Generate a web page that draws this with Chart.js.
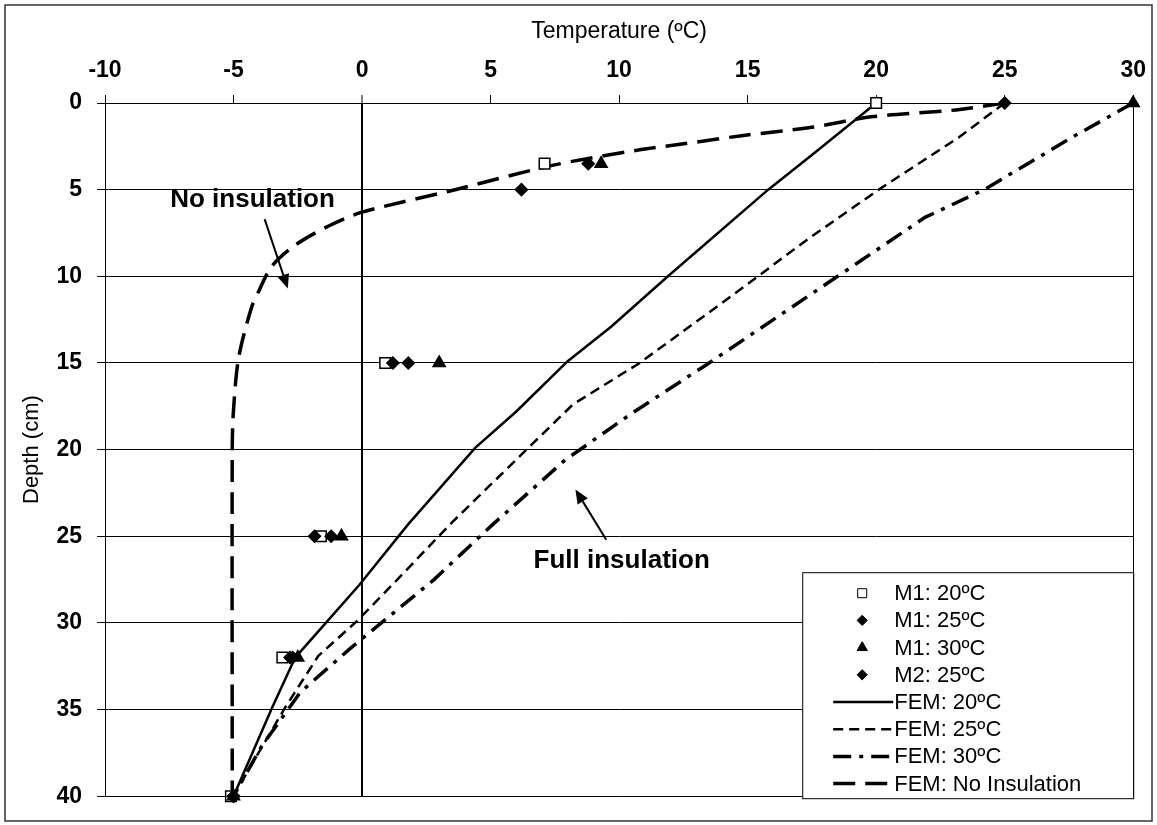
<!DOCTYPE html>
<html>
<head>
<meta charset="utf-8">
<script src="https://cdn.jsdelivr.net/npm/chart.js@4.4.0/dist/chart.umd.min.js"></script>
<style>
  html, body { margin: 0; padding: 0; background: #fff; }
  #wrap { width: 1157px; height: 825px; position: relative; }
</style>
</head>
<body>
<div id="wrap"><canvas id="profile"></canvas></div>
<script>
// measured profiles (depth in cm, temperature in ºC)
const m1Depths = [0, 3.5, 15, 25, 32, 40];
const m1Temp20 = [20, 7.1, 0.9, -1.6, -3.1, -5.1];
const m1Temp25 = [25, 8.8, 1.8, -1.2, -2.7, -5.0];
const m1Temp30 = [30, 9.3, 3.0, -0.8, -2.5, -5.0];
const m2Depths = [5, 15, 25, 32, 40];
const m2Temp25 = [6.2, 1.2, -1.85, -2.8, -5.0];

// FEM results
const femDepth20 = [0, 3, 5, 10, 12.9, 14.9, 17.8, 19.9, 24.3, 27.8, 32, 34.9, 40];
const femTemp20 = [20, 17.5, 15.8, 11.9, 9.7, 8.0, 6.0, 4.4, 1.8, -0.1, -2.6, -3.5, -5];
const femDepth25 = [0, 2, 5, 7.9, 11, 15, 17.4, 20, 24.2, 27.3, 29.9, 31.9, 34.9, 38.7, 40];
const femTemp25 = [25, 23.2, 20.1, 17.3, 14.5, 10.8, 8.2, 6.4, 3.5, 1.5, -0.2, -1.7, -3.0, -4.5, -5];
const femDepth30 = [0, 2, 5, 6.6, 10, 13.1, 15.1, 17.9, 20.6, 24.3, 27.5, 31.4, 34, 37.1, 40];
const femTemp30 = [30, 27.6, 24.2, 21.9, 18.5, 15.4, 13.4, 10.5, 7.9, 5.1, 2.8, -0.4, -2.4, -3.9, -5];
const noInsDepth = [0, 0.4, 0.8, 1.4, 1.9, 2.4, 2.7, 3.6, 5.05, 6.3, 7.1, 8.2, 9.4, 10.8, 11.8, 14.7, 17.7, 20, 40];
const noInsTemp = [25, 23.1, 19.8, 17.5, 14.7, 12.3, 10.8, 7.4, 3.5, 0, -1.3, -2.6, -3.5, -4.0, -4.3, -4.8, -5.0, -5.05, -5.05];

const tempTicks = [-10, -5, 0, 5, 10, 15, 20, 25, 30];
const depthTicks = [0, 5, 10, 15, 20, 25, 30, 35, 40];

const pairs = (xs, ys) => xs.map((x, i) => ({ x: x, y: ys[i] }));

// lower order is drawn on top
function markerSet(label, xs, ys, style, radius, fill, order) {
  return {
    label: label,
    data: pairs(xs, ys),
    showLine: false,
    pointStyle: style,
    pointRadius: radius,
    pointBorderWidth: 1.5,
    pointBackgroundColor: fill,
    pointBorderColor: '#000',
    clip: false,
    order: order
  };
}

function femSet(label, xs, ys, dash, width, tension) {
  return {
    label: label,
    data: pairs(xs, ys),
    showLine: true,
    pointRadius: 0,
    borderColor: '#000',
    borderWidth: width,
    borderDash: dash,
    tension: tension || 0,
    order: 3
  };
}

// text labels with arrows, placed in data coordinates
const notes = [
  { text: 'No insulation', x: -4.26, y: 5.6, from: [-3.79, 6.7], to: [-2.89, 10.7] },
  { text: 'Full insulation', x: 10.1, y: 26.4, from: [9.5, 25.2], to: [8.3, 22.3] }
];

const frame = {
  id: 'frame',
  beforeDraw(chart) {
    const ctx = chart.ctx;
    ctx.save();
    ctx.fillStyle = '#fff';
    ctx.fillRect(0, 0, chart.width, chart.height);
    ctx.strokeStyle = '#333';
    ctx.lineWidth = 1.5;
    ctx.strokeRect(5, 5, chart.width - 10, chart.height - 9);
    ctx.restore();
  }
};

const arrowNotes = {
  id: 'arrowNotes',
  afterDatasetsDraw(chart) {
    const { ctx, scales } = chart;
    const sx = scales.x, sy = scales.y;
    ctx.save();
    ctx.fillStyle = '#000';
    ctx.strokeStyle = '#000';
    ctx.font = 'bold 26px "Liberation Sans"';
    ctx.textAlign = 'center';
    ctx.textBaseline = 'middle';
    notes.forEach(n => {
      ctx.fillText(n.text, sx.getPixelForValue(n.x), sy.getPixelForValue(n.y));
      const x1 = sx.getPixelForValue(n.from[0]), y1 = sy.getPixelForValue(n.from[1]);
      const x2 = sx.getPixelForValue(n.to[0]), y2 = sy.getPixelForValue(n.to[1]);
      const a = Math.atan2(y2 - y1, x2 - x1);
      const head = 14, half = 6;
      const bx = x2 - head * Math.cos(a), by = y2 - head * Math.sin(a);
      ctx.lineWidth = 2;
      ctx.beginPath();
      ctx.moveTo(x1, y1);
      ctx.lineTo(bx, by);
      ctx.stroke();
      ctx.beginPath();
      ctx.moveTo(x2, y2);
      ctx.lineTo(bx + half * Math.sin(a), by - half * Math.cos(a));
      ctx.lineTo(bx - half * Math.sin(a), by + half * Math.cos(a));
      ctx.closePath();
      ctx.fill();
    });
    ctx.restore();
  }
};

// legend box sitting in the lower right corner of the plot
const boxLegend = {
  id: 'boxLegend',
  afterDraw(chart) {
    const { ctx, chartArea } = chart;
    const w = 331, h = 226;
    const x0 = chartArea.right - w, y0 = chartArea.bottom + 2 - h;
    ctx.save();
    ctx.fillStyle = '#fff';
    ctx.fillRect(x0, y0, w, h);
    ctx.strokeStyle = '#000';
    ctx.lineWidth = 1;
    ctx.strokeRect(x0 + 0.5, y0 + 0.5, w, h);
    ctx.font = '22px "Liberation Sans"';
    ctx.textAlign = 'left';
    ctx.textBaseline = 'middle';
    chart.data.datasets.forEach((ds, i) => {
      const cy = y0 + 21 + i * 27.2;
      ctx.strokeStyle = '#000';
      if (ds.showLine) {
        ctx.lineWidth = ds.borderWidth;
        ctx.setLineDash(ds.borderDash || []);
        ctx.beginPath();
        ctx.moveTo(x0 + 31, cy);
        ctx.lineTo(x0 + 91, cy);
        ctx.stroke();
        ctx.setLineDash([]);
      } else {
        ctx.fillStyle = ds.pointBackgroundColor;
        Chart.helpers.drawPoint(ctx, {
          pointStyle: ds.pointStyle,
          radius: ds.pointRadius * 0.85,
          borderWidth: ds.pointBorderWidth,
          rotation: 0
        }, x0 + 60, cy);
      }
      ctx.fillStyle = '#000';
      ctx.fillText(ds.label, x0 + 92, cy + 1);
    });
    ctx.restore();
  }
};

new Chart(document.getElementById('profile'), {
  type: 'scatter',
  data: {
    datasets: [
      markerSet('M1: 20ºC', m1Temp20, m1Depths, 'rect', 7.5, '#fff', 2),
      markerSet('M1: 25ºC', m1Temp25, m1Depths, 'rectRot', 6, '#000', 1),
      markerSet('M1: 30ºC', m1Temp30, m1Depths, 'triangle', 7, '#000', 1),
      markerSet('M2: 25ºC', m2Temp25, m2Depths, 'rectRot', 6, '#000', 1),
      femSet('FEM: 20ºC', femTemp20, femDepth20, [], 2.5),
      femSet('FEM: 25ºC', femTemp25, femDepth25, [10, 6], 2.5),
      femSet('FEM: 30ºC', femTemp30, femDepth30, [18, 8, 4, 8], 3.5),
      femSet('FEM: No Insulation', noInsTemp, noInsDepth, [22, 10], 3.5, 0.3)
    ]
  },
  options: {
    responsive: true,
    maintainAspectRatio: false,
    animation: false,
    layout: { padding: { left: 0, top: 0, right: 22, bottom: 22 } },
    plugins: {
      legend: { display: false },
      tooltip: { enabled: false }
    },
    scales: {
      x: {
        type: 'linear',
        position: 'top',
        min: -10,
        max: 30,
        afterFit: s => { s.height = 103; },
        afterBuildTicks: s => { s.ticks = tempTicks.map(v => ({ value: v })); },
        title: {
          display: true,
          text: 'Temperature (ºC)',
          color: '#000',
          font: { family: 'Liberation Sans', size: 23 },
          padding: { top: 18, bottom: 0 }
        },
        ticks: {
          color: '#000',
          padding: 11,
          font: { family: 'Liberation Sans', size: 23, weight: 'bold' }
        },
        grid: {
          color: c => (c.tick && (c.tick.value === 0 || c.tick.value === 30)) ? '#000' : 'rgba(0,0,0,0)',
          lineWidth: c => (c.tick && c.tick.value === 0) ? 2 : 1,
          tickColor: '#000',
          tickWidth: 1,
          tickLength: 8
        },
        border: { display: true, color: '#000', width: 1 }
      },
      y: {
        type: 'linear',
        reverse: true,
        min: 0,
        max: 40,
        afterFit: s => { s.width = 105; },
        afterBuildTicks: s => { s.ticks = depthTicks.map(v => ({ value: v })); },
        title: {
          display: true,
          text: 'Depth (cm)',
          color: '#000',
          font: { family: 'Liberation Sans', size: 22 },
          padding: { top: 19, bottom: 0 }
        },
        ticks: {
          color: '#000',
          padding: 15,
          font: { family: 'Liberation Sans', size: 23, weight: 'bold' }
        },
        grid: {
          color: '#000',
          lineWidth: 1,
          tickColor: '#000',
          tickLength: 8
        },
        border: { display: true, color: '#000', width: 1 }
      }
    }
  },
  plugins: [frame, arrowNotes, boxLegend]
});
</script>
</body>
</html>
